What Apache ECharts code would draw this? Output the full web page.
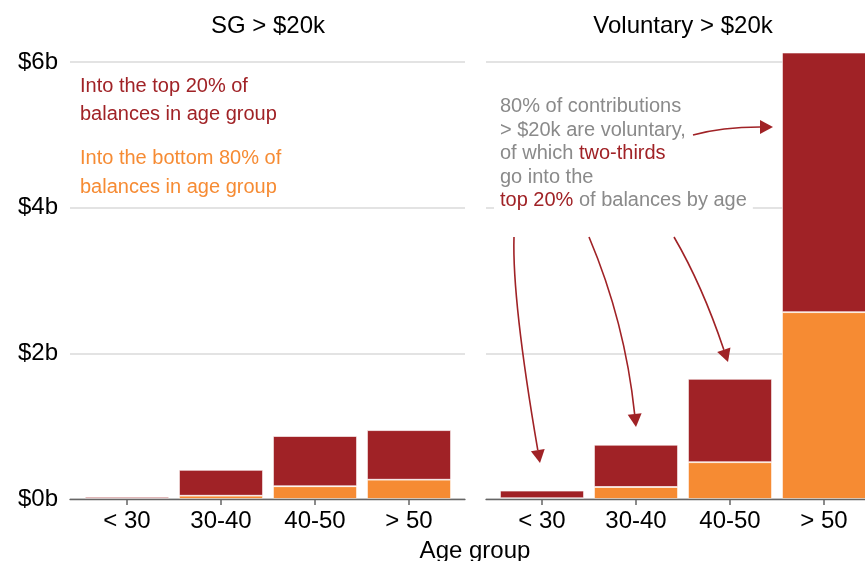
<!DOCTYPE html>
<html style="height: 100%">
<head>
    <meta charset="utf-8">
</head>
<body style="height: 100%; margin: 0; background: #fff">
<div id="container" style="width: 865px; height: 561px"></div>

<script type="text/javascript" src="https://cdn.jsdelivr.net/npm/echarts@6.0.0/dist/echarts.min.js"></script>
<script type="text/javascript">
    // data, $ billions
    var ageGroups = ['< 30', '30-40', '40-50', '> 50'];
    var sgBottom80 = [0.005, 0.045, 0.175, 0.265];
    var sgTop20 = [0.025, 0.355, 0.69, 0.68];
    var volBottom80 = [0.01, 0.165, 0.505, 2.565];
    var volTop20 = [0.105, 0.58, 1.145, 3.565];
    var yTicks = [0, 2, 4, 6];
    var panelTitles = ['SG > $20k', 'Voluntary > $20k'];

    var red = '#A02226';
    var orange = '#F68B33';
    var grey = '#8a8a8a';
    var font = '"Liberation Sans", Arial, sans-serif';

    var dom = document.getElementById("container");
    var myChart = echarts.init(dom);
    var option;

    // grids 0/2 carry the gridlines and the axis line, grids 1/3 the bars
    var gridTop = 62, gridBottom = 62;

    function baseX(i) {
        return {
            type: 'value', gridIndex: i, min: 0, max: 1, z: 10,
            axisLine: {show: true, lineStyle: {color: '#666', width: 1.3}},
            axisTick: {show: false}, axisLabel: {show: false}, splitLine: {show: false}
        };
    }
    function baseY(i, labels) {
        return {
            type: 'value', gridIndex: i,
            min: yTicks[0], max: yTicks[yTicks.length - 1], interval: yTicks[1] - yTicks[0],
            axisLine: {show: false}, axisTick: {show: false},
            splitLine: {show: true, lineStyle: {color: '#dadada', width: 1.5}},
            axisLabel: {
                show: labels, margin: 12, color: '#000', fontSize: 24, fontFamily: font,
                padding: [3, 0, 0, 0],
                formatter: function (v) { return '$' + v + 'b'; }
            }
        };
    }
    function catX(i) {
        return {
            type: 'category', gridIndex: i, data: ageGroups,
            axisLine: {show: false},
            axisTick: {show: true, alignWithLabel: true, length: 6, lineStyle: {color: '#666', width: 1.5}},
            axisLabel: {margin: 10, color: '#000', fontSize: 24, fontFamily: font}
        };
    }
    function hiddenY(i) {
        return {type: 'value', gridIndex: i, min: 0, max: 6, show: false};
    }
    function bars(name, data, color, idx) {
        return {
            name: name, type: 'bar', stack: 's' + idx, xAxisIndex: idx, yAxisIndex: idx,
            data: data, barWidth: 84, clip: false,
            itemStyle: {color: color, borderColor: 'rgba(255,255,255,0.85)', borderWidth: 0.8}
        };
    }

    function arrow(p0, c, tip) {
        var dx = tip[0] - c[0], dy = tip[1] - c[1];
        var len = Math.sqrt(dx * dx + dy * dy);
        var ux = dx / len, uy = dy / len;
        var hl = 13, hw = 7;
        var b = [tip[0] - ux * hl, tip[1] - uy * hl];
        return [{
            type: 'bezierCurve', z: 20,
            shape: {x1: p0[0], y1: p0[1], cpx1: c[0], cpy1: c[1], x2: b[0], y2: b[1]},
            style: {stroke: red, lineWidth: 1.6, fill: null}
        }, {
            type: 'polygon', z: 20,
            shape: {points: [tip, [b[0] - uy * hw, b[1] + ux * hw], [b[0] + uy * hw, b[1] - ux * hw]]},
            style: {fill: red}
        }];
    }

    var graphics = [
        {type: 'text', x: 268, y: 26, style: {text: panelTitles[0], font: '24px ' + font, fill: '#000', align: 'center', verticalAlign: 'middle'}},
        {type: 'text', x: 683, y: 26, style: {text: panelTitles[1], font: '24px ' + font, fill: '#000', align: 'center', verticalAlign: 'middle'}},
        {type: 'text', x: 475, y: 551, style: {text: 'Age group', font: '24px ' + font, fill: '#000', align: 'center', verticalAlign: 'middle'}},
        {type: 'text', x: 80, y: 72, style: {text: 'Into the top 20% of\nbalances in age group', font: '20px ' + font, lineHeight: 28, fill: red, align: 'left', verticalAlign: 'top'}},
        {type: 'text', x: 80, y: 143.5, style: {text: 'Into the bottom 80% of\nbalances in age group', font: '20px ' + font, lineHeight: 29, fill: orange, align: 'left', verticalAlign: 'top'}},
        {
            type: 'text', x: 494, y: 95, z: 10,
            style: {
                text: '80% of contributions\n> $20k are voluntary,\nof which {r|two-thirds}\ngo into the\n{r|top 20%} of balances by age',
                font: '20px ' + font, fontSize: 20, fontFamily: font, lineHeight: 23.5,
                fill: grey, align: 'left', verticalAlign: 'top',
                backgroundColor: '#fff', padding: [0, 6, 0, 6],
                rich: {r: {fill: red, fontSize: 20, fontFamily: font, lineHeight: 23.5}}
            }
        }
    ];
    graphics = graphics
        .concat(arrow([693, 135], [722, 127], [773, 127]))
        .concat(arrow([514, 237], [512, 300], [540, 463]))
        .concat(arrow([589, 237], [625, 322], [636, 427]))
        .concat(arrow([674, 237], [702, 285], [728, 362]));

    option = {
        backgroundColor: '#fff',
        animation: false,
        grid: [
            {left: 70, width: 395, top: gridTop, bottom: gridBottom, outerBoundsMode: 'none'},
            {left: 80, width: 376, top: gridTop, bottom: gridBottom, outerBoundsMode: 'none'},
            {left: 486, right: 0, top: gridTop, bottom: gridBottom, outerBoundsMode: 'none'},
            {left: 495, width: 376, top: gridTop, bottom: gridBottom, outerBoundsMode: 'none'}
        ],
        xAxis: [baseX(0), catX(1), baseX(2), catX(3)],
        yAxis: [baseY(0, true), hiddenY(1), baseY(2, false), hiddenY(3)],
        series: [
            bars('SG bottom 80%', sgBottom80, orange, 1),
            bars('SG top 20%', sgTop20, red, 1),
            bars('Voluntary bottom 80%', volBottom80, orange, 3),
            bars('Voluntary top 20%', volTop20, red, 3)
        ],
        graphic: graphics
    };

    if (option && typeof option === 'object') {
        myChart.setOption(option);
    }
</script>
</body>
</html>
